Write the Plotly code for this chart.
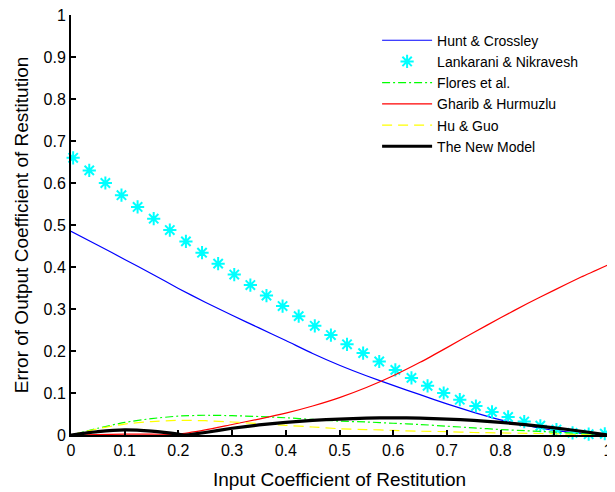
import plotly.graph_objects as go

# ---- data ----
x_curve = [0.00, 0.05, 0.10, 0.15, 0.20, 0.25, 0.30, 0.35, 0.40, 0.45, 0.50,
           0.55, 0.60, 0.65, 0.70, 0.75, 0.80, 0.85, 0.90, 0.95, 1.00]

hunt_crossley = [0.485, 0.452, 0.418, 0.384, 0.349, 0.316, 0.285, 0.255, 0.225, 0.194, 0.166,
                 0.141, 0.118, 0.096, 0.074, 0.054, 0.036, 0.022, 0.011, 0.004, 0.000]

flores = [0.000, 0.016, 0.030, 0.039, 0.045, 0.047, 0.046, 0.044, 0.041, 0.037, 0.033,
          0.031, 0.028, 0.025, 0.021, 0.017, 0.013, 0.010, 0.007, 0.003, 0.000]

gharib = [0.000, 0.001, 0.002, 0.002, 0.002, 0.012, 0.025, 0.038, 0.052, 0.069, 0.089,
          0.113, 0.141, 0.173, 0.208, 0.244, 0.279, 0.313, 0.345, 0.376, 0.405]

hu_guo = [0.000, 0.015, 0.026, 0.032, 0.035, 0.034, 0.031, 0.027, 0.023, 0.019, 0.015,
          0.013, 0.011, 0.009, 0.008, 0.006, 0.005, 0.004, 0.003, 0.001, 0.000]

x_new = [0.00, 0.05, 0.10, 0.15, 0.20, 0.21, 0.25, 0.30, 0.35, 0.40, 0.45, 0.50,
         0.55, 0.60, 0.65, 0.70, 0.75, 0.80, 0.85, 0.90, 0.95, 1.00]
new_model = [0.000, 0.008, 0.012, 0.009, 0.002, 0.000, 0.006, 0.016, 0.024, 0.030, 0.035, 0.038,
             0.040, 0.041, 0.040, 0.038, 0.035, 0.030, 0.024, 0.017, 0.009, 0.000]

x_lank = [0.004, 0.034, 0.064, 0.094, 0.124, 0.154, 0.184, 0.214, 0.244, 0.274, 0.304,
          0.334, 0.364, 0.394, 0.424, 0.454, 0.484, 0.514, 0.544, 0.574, 0.604, 0.634,
          0.664, 0.694, 0.724, 0.754, 0.784, 0.814, 0.844, 0.874, 0.904, 0.934, 0.964, 0.994]
lankarani = [0.660, 0.630, 0.600, 0.571, 0.543, 0.515, 0.488, 0.461, 0.434, 0.408, 0.382,
             0.357, 0.332, 0.307, 0.283, 0.260, 0.238, 0.216, 0.195, 0.175, 0.155, 0.136,
             0.117, 0.100, 0.084, 0.069, 0.055, 0.043, 0.032, 0.022, 0.013, 0.005, 0.002, 0.003]

x_ticks = [0, 0.1, 0.2, 0.3, 0.4, 0.5, 0.6, 0.7, 0.8, 0.9, 1]
x_tick_labels = ["0", "0.1", "0.2", "0.3", "0.4", "0.5", "0.6", "0.7", "0.8", "0.9", "1"]
y_ticks = [0, 0.1, 0.2, 0.3, 0.4, 0.5, 0.6, 0.7, 0.8, 0.9, 1]
y_tick_labels = ["0", "0.1", "0.2", "0.3", "0.4", "0.5", "0.6", "0.7", "0.8", "0.9", "1"]

FONT = "Liberation Sans, Arial, sans-serif"

fig = go.Figure()
fig.add_trace(go.Scatter(x=x_curve, y=hunt_crossley, mode="lines", name="Hunt & Crossley",
                         line=dict(color="#0000FF", width=1.2, shape="spline", smoothing=0.6)))
fig.add_trace(go.Scatter(x=x_lank, y=lankarani, mode="markers", name="Lankarani & Nikravesh",
                         marker=dict(symbol="asterisk-open", size=11, color="#00FFFF",
                                     line=dict(color="#00FFFF", width=2)),
                         cliponaxis=False))
fig.add_trace(go.Scatter(x=x_curve, y=flores, mode="lines", name="Flores et al.",
                         line=dict(color="#00FF00", width=1.2, dash="8px,3px,2px,3px",
                                   shape="spline", smoothing=0.6)))
fig.add_trace(go.Scatter(x=x_curve, y=gharib, mode="lines", name="Gharib & Hurmuzlu",
                         line=dict(color="#FF0000", width=1.2, shape="spline", smoothing=0.6)))
fig.add_trace(go.Scatter(x=x_curve, y=hu_guo, mode="lines", name="Hu & Guo",
                         line=dict(color="#FFFF00", width=1.2, dash="10px,6px",
                                   shape="spline", smoothing=0.6)))
fig.add_trace(go.Scatter(x=x_new, y=new_model, mode="lines", name="The New Model",
                         line=dict(color="#000000", width=3.2, shape="spline", smoothing=0.5)))

axis_common = dict(
    showgrid=False, zeroline=False, showline=True, linecolor="black", linewidth=2,
    ticks="inside", ticklen=5, tickwidth=2, tickcolor="black",
    tickfont=dict(family=FONT, size=16, color="black"),
    ticklabeloverflow="allow", mirror=False, automargin=False,
)

# the page body has an 8px default margin, so the figure is sized/offset to compensate
fig.update_layout(
    width=607, height=484,
    margin=dict(l=63, r=7, t=7, b=57),
    paper_bgcolor="white", plot_bgcolor="white",
    font=dict(family=FONT, color="black"),
    xaxis=dict(range=[0, 1], tickvals=x_ticks, ticktext=x_tick_labels,
               title=dict(text="Input Coefficient of Restitution",
                          font=dict(family=FONT, size=19), standoff=14),
               **axis_common),
    yaxis=dict(range=[0, 1], tickvals=y_ticks, ticktext=y_tick_labels,
               title=dict(text="Error of Output Coefficient of Restitution",
                          font=dict(family=FONT, size=19), standoff=10),
               **axis_common),
    legend=dict(x=0.57, y=0.977, xanchor="left", yanchor="top",
                font=dict(family=FONT, size=14, color="black"),
                bgcolor="rgba(255,255,255,0)", borderwidth=0, itemwidth=50),
    showlegend=True,
)

fig.write_html("out.html")
